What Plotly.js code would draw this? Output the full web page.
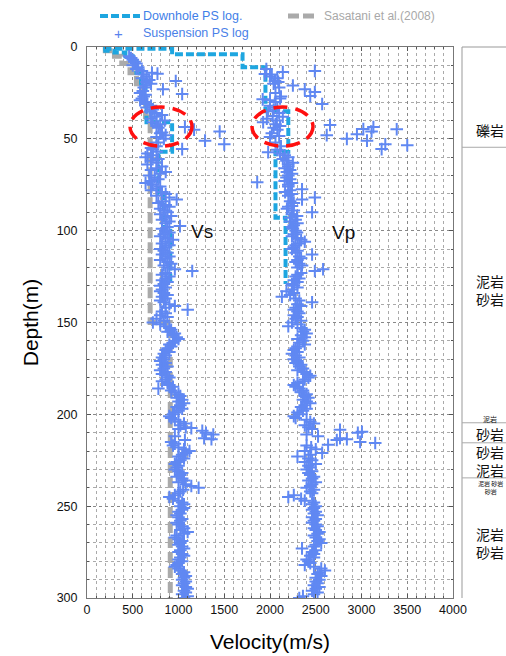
<!DOCTYPE html>
<html><head><meta charset="utf-8">
<script src="https://cdn.plot.ly/plotly-3.0.1.min.js"></script>
<style>html,body{margin:0;padding:0;background:#fff;} #chart{width:506px;height:656px;}</style>
</head><body><div id="chart"></div>
<script>
// ---- Suspension PS log: Vs ----
const vsSuspDepth = [5,6,7,8,9,10,11,12,13,14,
 14.5,15,16,17,18,18.5,19,20,21,22,
 23,24,25,25.6,26,27,28,29,30,31,
 32,33,34,35,36,37,38,39,40,41,
 42,43,43.6,44,45,46,46.5,47,48,49,
 50,51,52,53,54,55,55.6,56,57,58,
 59,60,61,62,63,64,65,66,67,68,
 69,70,71,72,73,74,75,76,77,78,
 79,80,81,82,83,84,85,86,87,88,
 89,90,91,92,93,94,95,96,97.5,98,
 99,100,101,102,103,104,105,106,107,108,
 109,110,111,112,113,114,115,116,117,118,
 119,120,121,122,123,124,125,126,127,128,
 129,130,131,132,133,134,135,136,137,138,
 139,140,141,142,143,144,145,146,147,148,
 149,150,151,152,153,154,155,156,157,158,
 159,160,161,162,163,164,165,166,167,168,
 169,170,171,172,173,174,175,176,177,178,
 179,180,181,182,183,184,185,186,187,188,
 189,190,191,192,193,194,195,196,197,198,
 199,200,201,202,203,204,205,206,207,207.5,
 208,209,210,211,212,213,213.5,214,215,216,
 217,218,219,220,221,222,223,224,225,226,
 227,228,229,230,231,232,233,234,235,236,
 237,238,239,240,241,242,243,244,245,246,
 247,248,249,250,251,252,253,254,255,256,
 257,258,259,260,261,262,263,264,265,266,
 267,268,269,270,271,272,273,274,275,276,
 277,278,279,280,281,282,283,284,285,286,
 287,288,289,290,291,292,293,294,295,296,
 297,298,299,300];
const vsSuspVel = [460,480,500,520,540,500,560,540,600,710,
 770,620,650,600,680,970,650,700,640,620,
 830,610,580,1040,640,620,600,580,640,660,
 700,650,720,690,740,820,760,700,850,720,
 800,760,1070,780,1170,1450,820,800,860,760,
 840,1290,780,1500,760,700,1040,720,760,660,
 720,640,780,700,760,660,820,760,700,860,
 800,680,740,780,700,640,720,800,760,700,
 820,860,760,900,980,820,780,860,900,800,
 840,880,800,920,860,820,900,860,1016,880,
 820,860,900,840,800,880,940,860,820,900,
 860,800,840,880,820,900,860,800,880,920,
 840,880,960,1150,860,820,900,860,820,880,
 840,800,860,820,800,840,880,820,860,800,
 840,900,960,860,1100,820,860,800,880,760,
 840,720,800,860,900,920,880,960,940,980,
 1000,960,940,900,920,880,860,900,840,860,
 820,840,800,860,820,880,840,800,860,820,
 880,900,860,820,880,900,940,780,920,960,
 1000,1020,980,1040,1000,1060,1020,980,1040,1000,
 960,940,900,920,960,1000,1060,1020,1080,1140,
 1000,1260,1300,1380,960,1280,1360,1070,920,960,
 940,1000,1060,1120,1080,1040,1000,1060,1020,980,
 960,1000,980,960,1000,1040,1020,980,1040,1060,
 1000,1080,1140,1220,1050,1020,1000,960,900,940,
 1000,1040,1060,1020,1060,1040,1000,1020,980,1000,
 1040,1020,980,1000,1040,1060,1020,1100,1060,980,
 960,1000,1040,1020,1000,1040,1060,1020,1000,1040,
 1060,1020,1000,1040,1000,980,960,1000,1020,1060,
 1040,1080,1060,1040,1080,1060,1040,1080,1100,1060,
 1080,1040,1100,1060];

// ---- Suspension PS log: Vp ----
const vpSuspDepth = [12,13,13.6,14.7,15,16,17,18.5,19,20,
 21,22,23,24.5,25,26.7,27,28,28.5,29,
 30,31,32,33,34,35,36,37.6,38,39,
 40,41,42,42.5,43,43.6,44,44.7,44.8,45,
 46,47,47.5,48,48.5,49,50,51,52,53,
 53.5,54,55.6,56,57.3,58,59,60,61,62,
 63,64,65,66,67,68,69,70,71,72,
 73,73.6,74,75,76,77.5,78,79,80,81,
 82,83,84,85,86.6,87,88,89,90,91,
 92,93,94,95,96,97,98,99,100,101,
 102,103,104,105,106,107,108,109,110,111,
 112,113,114,115,116,117,118,119,120,121,
 122,123,124,125,126,127,128,129,130,131,
 132,133,134,135,136,137,138,139,140,141,
 142,143,144,145,146,147,148,149,150,151,
 152,153,154,155,156,157,158,159,160,161,
 162,163,164,165,166,167,168,169,170,171,
 172,173,174,175,176,177,178,179,180,181,
 182,183,184,185,186,187,188,189,190,191,
 192,193,194,195,196,197,198,199,200,201,
 202,203,204,205,206,207,208,208.4,209.5,210,
 211,212,213,213.5,214,215,215.6,216.6,217,218,
 219,220,221,222,223,224,225,226,227,228,
 229,230,231,232,233,234,235,236,237,238,
 239,240,241,242,243,244,245,246,247,248,
 249,250,251,252,253,254,255,256,257,258,
 259,260,261,262,263,264,265,266,267,268,
 269,270,271,272,273,274,275,276,277,278,
 279,280,281,282,283,284,285,286,287,288,
 289,290,291,292,293,294,295,296,297,298,
 299,300];
const vpSuspVel = [1960,2490,2140,1945,2020,2000,2080,2055,2090,2040,
 2250,2100,2380,2490,2060,2440,2120,2110,1920,2000,
 2060,2570,2000,2080,2040,1980,2100,2030,2140,1965,
 2075,1925,2060,2656,2110,3130,2040,3020,3385,2080,
 3110,2020,2950,2620,2100,2000,2840,3060,2060,3260,
 3500,2120,3220,2080,1980,2110,2160,2200,2140,2180,
 2250,2200,2200,2160,2220,2185,2240,2200,2180,2220,
 2160,1860,2240,2200,2200,2350,2220,2165,2240,2200,
 2490,2350,2220,2260,2240,2200,2185,2260,2460,2240,
 2295,2220,2280,2220,2300,2260,2240,2250,2280,2295,
 2260,2240,2300,2340,2380,2320,2280,2260,2240,2300,
 2280,2460,2320,2340,2300,2280,2320,2350,2300,2580,
 2490,2340,2300,2280,2320,2260,2300,2240,2260,2300,
 2240,2180,2260,2220,2130,2280,2320,2460,2300,2340,
 2280,2260,2300,2320,2260,2300,2280,2340,2240,2300,
 2200,2340,2380,2360,2400,2340,2380,2300,2360,2320,
 2380,2300,2280,2260,2300,2240,2280,2320,2260,2300,
 2280,2340,2320,2360,2300,2380,2400,2440,2420,2380,
 2360,2300,2260,2280,2320,2360,2340,2400,2380,2420,
 2360,2400,2440,2380,2340,2400,2360,2300,2320,2260,
 2280,2400,2440,2480,2380,2420,2460,2765,3005,2960,
 2400,2525,2765,2840,2730,2985,3150,2635,2400,2450,
 2500,2380,2570,2440,2300,2420,2460,2380,2500,2420,
 2440,2400,2460,2420,2440,2480,2460,2420,2500,2460,
 2440,2400,2480,2440,2460,2260,2200,2340,2380,2480,
 2460,2500,2480,2460,2500,2480,2520,2460,2500,2480,
 2460,2500,2520,2480,2500,2540,2520,2480,2500,2540,
 2520,2560,2500,2480,2350,2500,2460,2480,2440,2480,
 2400,2420,2440,2380,2480,2560,2600,2540,2520,2560,
 2500,2540,2500,2520,2480,2540,2500,2460,2520,2480,
 2360,2320];

// ---- Downhole PS log (layer tops and velocities) ----
const dhVsTop = [0,2,3,5,8,14,21,30,41,57,80,100,129];
const dhVsVel = [200,300,420,500,540,590,640,650,930,780,840,910,910];
const dhVpTop = [0,1,4,11,35,57,93,129];
const dhVpVel = [200,930,1700,1950,2200,2060,2170,2170];

// ---- Sasatani et al. (2008) ----
const sasTop = [0,2,5,9,14,20,30,38,150,300];
const sasVel = [200,300,380,470,540,600,640,690,910,910];

// ---- Highlight ellipses (velocity / depth extents) ----
const ellVelMin = [470, 1803];
const ellVelMax = [1148, 2470];
const ellDepMin = [32.7, 32.7];
const ellDepMax = [54, 54];

// ---- Lithology column ----
const lithoLabels = ['礫岩','泥岩<br>砂岩','泥岩','砂岩<br>砂岩<br>泥岩','泥岩 砂岩<br>砂岩','泥岩<br>砂岩'];
const lithoDepths = [45.3,132.3,202.3,220.4,239.6,269.8];
const lithoSizes  = [14,14,7,14,6,14];
const lithoBounds = [54.6,204.6,215.5,234.6];

const blue = '#6088f2';
const cyan = '#1ea6e0';
const gray = '#aaaaaa';

const traces = [
 {x: sasVel, y: sasTop, type:'scatter', mode:'lines', line:{shape:'vh', color:gray, width:5, dash:'11px,4px'}, hoverinfo:'skip'},
 {x: dhVsVel, y: dhVsTop, type:'scatter', mode:'lines', line:{shape:'vh', color:cyan, width:4, dash:'8px,3px'}, hoverinfo:'skip'},
 {x: dhVpVel, y: dhVpTop, type:'scatter', mode:'lines', line:{shape:'vh', color:cyan, width:4, dash:'8px,3px'}, hoverinfo:'skip'},
 {x: vsSuspVel, y: vsSuspDepth, type:'scatter', mode:'markers', marker:{symbol:'cross-thin', size:9, color:blue, line:{color:blue, width:2}}, hoverinfo:'skip'},
 {x: vpSuspVel, y: vpSuspDepth, type:'scatter', mode:'markers', marker:{symbol:'cross-thin', size:9, color:blue, line:{color:blue, width:2}}, hoverinfo:'skip'}
];

const PW = 366, L = 87;
const px = v => (v - L) / PW;          // pixel x -> paper x
const py = p => (598 - p) / 551;       // pixel y -> paper y

const shapes = [];
for (let i = 0; i < ellVelMin.length; i++) {
  shapes.push({type:'circle', xref:'x', yref:'y', x0:ellVelMin[i], x1:ellVelMax[i], y0:ellDepMin[i], y1:ellDepMax[i],
    line:{color:'#ff1010', width:3.5, dash:'14px,8px'}});
}
const lx0 = px(462), lx1 = px(506);
shapes.push({type:'line', xref:'paper', yref:'paper', x0:lx0, x1:lx0, y0:0, y1:1, line:{color:'#999', width:1}});
shapes.push({type:'line', xref:'paper', yref:'paper', x0:lx0, x1:lx1, y0:1, y1:1, line:{color:'#999', width:1}});
lithoBounds.forEach(d => shapes.push({type:'line', xref:'paper', yref:'y', x0:lx0, x1:lx1, y0:d, y1:d, line:{color:'#aaa', width:1}}));
// legend samples
shapes.push({type:'line', xref:'paper', yref:'paper', x0:px(100), x1:px(140), y0:py(16), y1:py(16), line:{color:cyan, width:4, dash:'8px,3px'}});
shapes.push({type:'line', xref:'paper', yref:'paper', x0:px(288), x1:px(318), y0:py(16), y1:py(16), line:{color:gray, width:5, dash:'11px,4px'}});

const annotations = [
 {text:'Vs', x:1257, y:100.4, xref:'x', yref:'y', showarrow:false, font:{size:19, color:'#111'}},
 {text:'Vp', x:2798, y:101, xref:'x', yref:'y', showarrow:false, font:{size:19, color:'#111'}},
 {text:'Downhole PS log.', x:px(141), y:py(16), xref:'paper', yref:'paper', xanchor:'left', yanchor:'middle', showarrow:false, font:{size:12.5, color:'#3f80e8'}},
 {text:'+', x:px(118), y:py(33), xref:'paper', yref:'paper', xanchor:'center', yanchor:'middle', showarrow:false, font:{size:15, color:'#5a82ee'}},
 {text:'Suspension PS log', x:px(141), y:py(33), xref:'paper', yref:'paper', xanchor:'left', yanchor:'middle', showarrow:false, font:{size:12.5, color:'#4a7fe8'}},
 {text:'Sasatani et al.(2008)', x:px(322), y:py(16), xref:'paper', yref:'paper', xanchor:'left', yanchor:'middle', showarrow:false, font:{size:12, color:'#a8a8a8'}}
];
lithoLabels.forEach((t,i) => annotations.push({text:t, x:px(490), y:lithoDepths[i], xref:'paper', yref:'y',
  xanchor:'center', yanchor:'middle', showarrow:false, borderpad:0,
  font:{size:lithoSizes[i], color:'#111', family:'Noto Sans CJK JP'}}));

const axisCommon = {
  showgrid:true, gridcolor:'#888', griddash:'dot', gridwidth:1,
  showline:true, mirror:'ticks', linecolor:'#777', linewidth:1, zeroline:false,
  ticks:'inside', ticklen:4, tickcolor:'#555',
  tickfont:{size:12.5, color:'#111', family:'Liberation Sans, Arial, sans-serif'}
};

const layout = {
  width:506, height:656,
  margin:{l:87, r:53, t:47, b:58},
  paper_bgcolor:'#fff', plot_bgcolor:'#fff',
  showlegend:false,
  font:{family:'Liberation Sans, Arial, sans-serif', color:'#000'},
  xaxis: Object.assign({}, axisCommon, {range:[0,4000], tick0:0, dtick:500,
    minor:{dtick:100, showgrid:true, gridcolor:'#aaa', griddash:'dot', ticks:'inside', ticklen:2},
    title:{text:'Velocity(m/s)', font:{size:21, color:'#000'}, standoff:18}}),
  yaxis: Object.assign({}, axisCommon, {range:[300,0], tick0:0, dtick:50,
    minor:{dtick:10, showgrid:true, gridcolor:'#aaa', griddash:'dot', ticks:'inside', ticklen:2},
    ticklabelstandoff:6,
    title:{text:'Depth(m)', font:{size:21, color:'#000'}, standoff:12}}),
  shapes: shapes,
  annotations: annotations
};

Plotly.newPlot('chart', traces, layout, {staticPlot:true, displayModeBar:false});
</script></body></html>
